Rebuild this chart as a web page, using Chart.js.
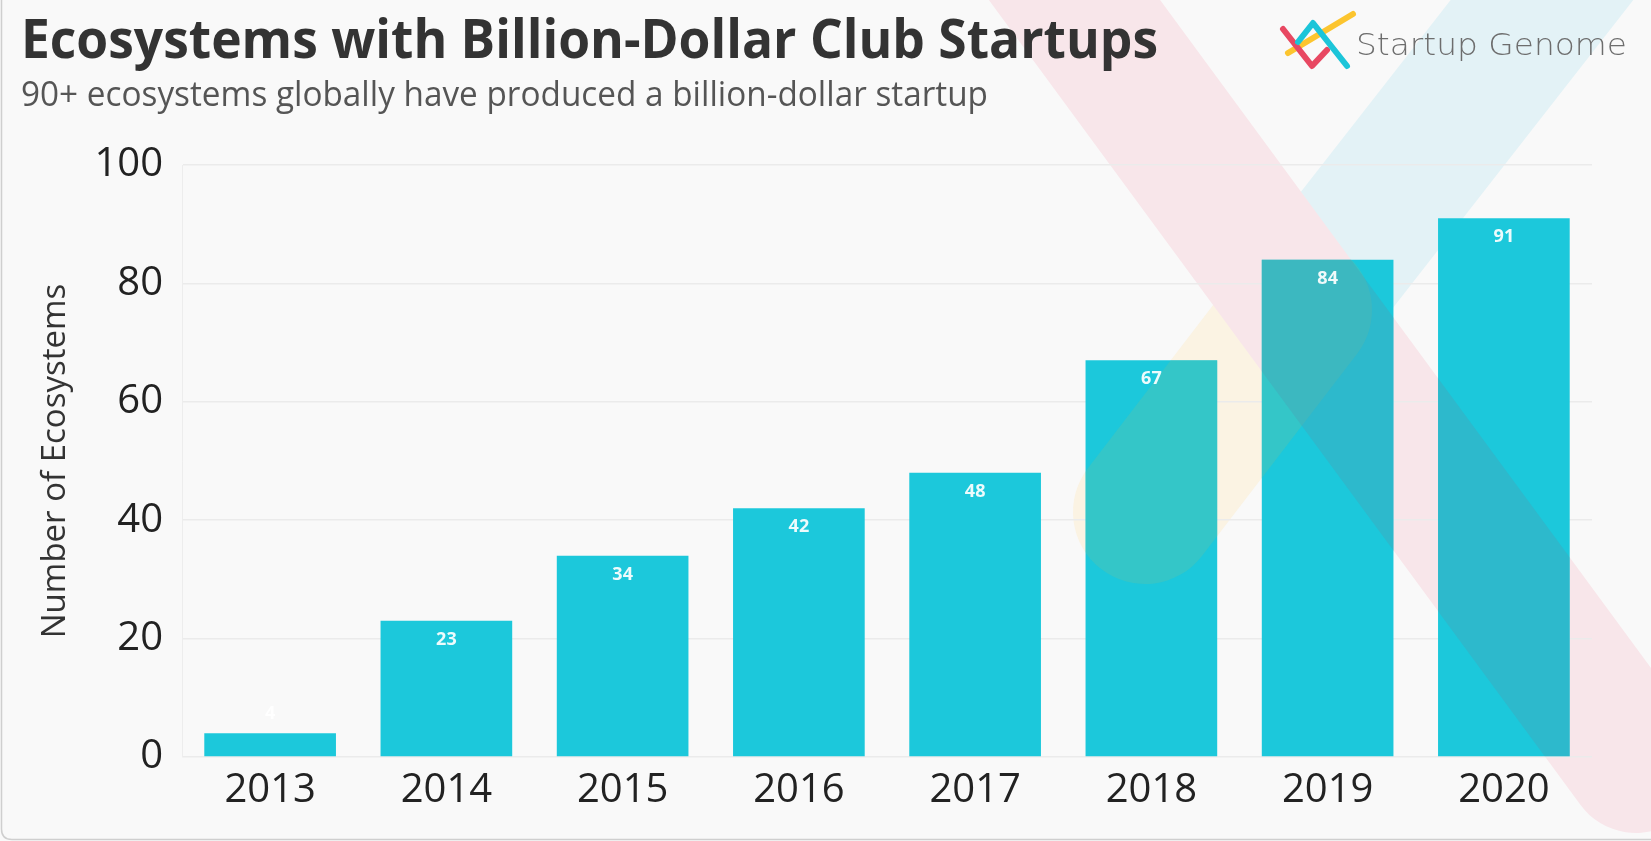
<!DOCTYPE html>
<html>
<head>
<meta charset="utf-8">
<title>Ecosystems with Billion-Dollar Club Startups</title>
<script src="https://cdn.jsdelivr.net/npm/chart.js@4.4.1/dist/chart.umd.min.js"></script>
<style>
  html, body { margin: 0; padding: 0; background: #f9f9f9; }
  #wrap { width: 1651px; height: 841px; }
</style>
</head>
<body>
<div id="wrap"><canvas id="clubChart" width="1651" height="841"></canvas></div>
<script>
// ------------------------- data -------------------------
const years = ['2013', '2014', '2015', '2016', '2017', '2018', '2019', '2020'];
const ecosystems = [4, 23, 34, 42, 48, 67, 84, 91];
const yTicks = [0, 20, 40, 60, 80, 100];

const titleText = 'Ecosystems with Billion-Dollar Club Startups';
const subtitleText = '90+ ecosystems globally have produced a billion-dollar startup';
const yTitle = 'Number of Ecosystems';
const brand = 'Startup Genome';

const barColor = '#1cc8db';

// draw a text squeezed to a given width (the original uses a narrow face)
function fitText(ctx, txt, x, y, font, color, width) {
    ctx.save();
    ctx.font = font;
    ctx.fillStyle = color;
    ctx.textBaseline = 'alphabetic';
    ctx.textAlign = 'left';
    const w = ctx.measureText(txt).width;
    const sx = w > 0 ? width / w : 1;
    ctx.translate(x, y);
    ctx.scale(sx, 1);
    ctx.fillText(txt, 0, 0);
    ctx.restore();
}

// background logo shape: three thick strokes
function band(ctx, x1, y1, x2, y2, w, color, cap) {
    ctx.save();
    ctx.strokeStyle = color;
    ctx.lineWidth = w;
    ctx.lineCap = cap;
    ctx.beginPath();
    ctx.moveTo(x1, y1);
    ctx.lineTo(x2, y2);
    ctx.stroke();
    ctx.restore();
}

function yellowBand(ctx, c) { band(ctx, 1300, 310, 1145, 512, 144, c, 'round'); }
function blueBand(ctx, c) { band(ctx, 1620, -100, 1300, 310, 144, c, 'butt'); }
function pinkBand(ctx, c) { band(ctx, 1001, -100, 1636, 764, 138, c, 'round'); }

const decorPlugin = {
    id: 'decor',
    beforeDraw(chart) {
        const ctx = chart.ctx;
        ctx.save();
        ctx.fillStyle = '#f9f9f9';
        ctx.fillRect(0, 0, chart.width, chart.height);
        yellowBand(ctx, '#fbf3e3');
        blueBand(ctx, '#e3f2f6');
        pinkBand(ctx, '#f8e6ea');

        // frame (left + bottom, rounded corner)
        ctx.strokeStyle = '#cfcfcf';
        ctx.lineWidth = 1.5;
        ctx.beginPath();
        ctx.moveTo(1.5, 0);
        ctx.lineTo(1.5, 829);
        ctx.quadraticCurveTo(1.5, 839.5, 12, 839.5);
        ctx.lineTo(chart.width, 839.5);
        ctx.stroke();
        ctx.restore();

        // title + subtitle
        fitText(ctx, titleText, 21, 58, 'bold 54px "Open Sans"', '#333333', 1137);
        fitText(ctx, subtitleText, 21, 106, '34px "Open Sans"', '#555555', 967);

        // brand mark
        ctx.save();
        ctx.lineWidth = 6;
        ctx.lineCap = 'round';
        ctx.lineJoin = 'round';
        ctx.strokeStyle = '#fcc52f';
        ctx.beginPath(); ctx.moveTo(1288, 53); ctx.lineTo(1353, 14); ctx.stroke();
        ctx.strokeStyle = '#e84862';
        ctx.beginPath(); ctx.moveTo(1283, 29); ctx.lineTo(1312, 66); ctx.lineTo(1327, 50); ctx.stroke();
        ctx.strokeStyle = '#1cc5d9';
        ctx.beginPath(); ctx.moveTo(1298, 42); ctx.lineTo(1313, 23); ctx.lineTo(1347, 66); ctx.stroke();
        ctx.restore();
        fitText(ctx, brand, 1356, 55, '200 31px "DejaVu Sans"', '#6d6d6d', 271);
    },
    afterDatasetsDraw(chart) {
        const ctx = chart.ctx;
        const meta = chart.getDatasetMeta(0);

        // the background strokes tint the bars where they cross
        ctx.save();
        ctx.beginPath();
        meta.data.forEach(bar => {
            const p = bar.getProps(['x', 'y', 'base', 'width'], true);
            ctx.rect(p.x - p.width / 2, p.y, p.width, p.base - p.y);
        });
        ctx.clip();
        yellowBand(ctx, 'rgba(96,194,165,0.35)');
        pinkBand(ctx, 'rgba(78,157,179,0.35)');
        ctx.restore();

        // value labels
        ctx.save();
        ctx.font = 'bold 18px "Open Sans"';
        ctx.textAlign = 'center';
        ctx.textBaseline = 'middle';
        ctx.fillStyle = 'rgba(255,255,255,0.92)';
        meta.data.forEach((bar, i) => {
            const p = bar.getProps(['x', 'y', 'base'], true);
            const inside = p.base - p.y > 38;
            ctx.fillText(String(ecosystems[i]), p.x, inside ? p.y + 19 : p.y - 19);
        });
        ctx.restore();
    }
};

new Chart(document.getElementById('clubChart'), {
    type: 'bar',
    data: {
        labels: years,
        datasets: [{
            data: ecosystems,
            backgroundColor: barColor,
            borderWidth: 0,
            categoryPercentage: 1,
            barPercentage: 0.747
        }]
    },
    options: {
        responsive: false,
        animation: false,
        devicePixelRatio: 1,
        layout: { padding: { top: 165, right: 59, bottom: 16, left: 0 } },
        plugins: {
            legend: { display: false },
            tooltip: { enabled: false }
        },
        scales: {
            x: {
                grid: { display: false, drawTicks: false },
                border: { display: false },
                ticks: {
                    color: '#222222',
                    padding: 10,
                    font: { family: 'Open Sans', size: 40 }
                }
            },
            y: {
                min: 0,
                max: 100,
                afterBuildTicks: s => { s.ticks = yTicks.map(v => ({ value: v })); },
                afterFit: s => { s.width = 182; },
                grid: { color: '#ebebeb', lineWidth: 1.5, drawTicks: false },
                border: { display: true, color: '#ededed' },
                ticks: {
                    color: '#222222',
                    padding: 19,
                    font: { family: 'Open Sans', size: 40 }
                },
                title: {
                    display: true,
                    text: yTitle,
                    color: '#333333',
                    padding: { top: 36, bottom: 0 },
                    font: { family: 'Open Sans', size: 33 }
                }
            }
        }
    },
    plugins: [decorPlugin]
});
</script>
</body>
</html>
